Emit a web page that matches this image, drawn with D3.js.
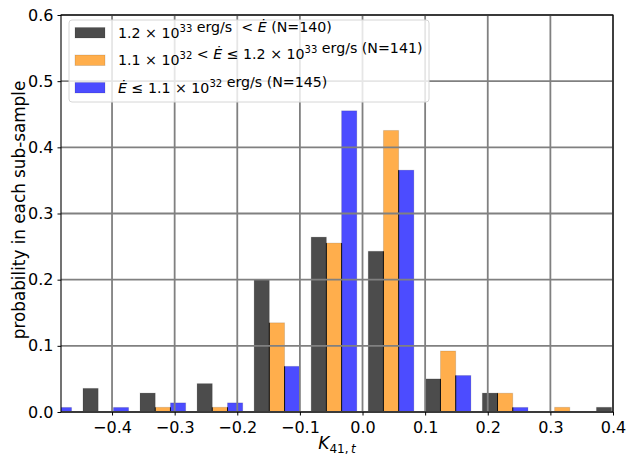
<!DOCTYPE html>
<html>
<head>
<meta charset="utf-8">
<script src="https://cdn.jsdelivr.net/npm/d3@7"></script>
<style>
  body { margin: 0; background: #fff; }
  svg { display: block; font-family: "DejaVu Sans", sans-serif; }
  text { white-space: pre; }
</style>
</head>
<body>
<svg id="chart" width="628" height="457"></svg>
<script>
// ---- data ----
const binStart = -0.5466;          // left edge of first histogram bin
const binWidth = 0.0911;           // histogram bin width
const binCount = 11;
const seriesNames = ["high", "mid", "low"];
const seriesCounts = [140, 141, 145];
const highValues = [0, 0.0357, 0.0286, 0.0429, 0.2000, 0.2643, 0.2429, 0.0500, 0.0286, 0, 0.0071];
const midValues  = [0, 0, 0.0071, 0.0071, 0.1348, 0.2553, 0.4255, 0.0922, 0.0284, 0.0071, 0];
const lowValues  = [0.0069, 0.0069, 0.0138, 0.0138, 0.0690, 0.4552, 0.3655, 0.0552, 0.0069, 0, 0];
const seriesColors = ["#4c4c4c", "#ffae4c", "#4c4cff"];
const xTicks = [-0.4, -0.3, -0.2, -0.1, 0.0, 0.1, 0.2, 0.3, 0.4];
const yTicks = [0.0, 0.1, 0.2, 0.3, 0.4, 0.5, 0.6];
const xDomain = [-0.4815, 0.4];
const yDomain = [0, 0.6];

const series = [highValues, midValues, lowValues];

// ---- layout ----
const svg = d3.select("#chart");
const L = 61, R = 613, T = 15, B = 412;
const x = d3.scaleLinear().domain(xDomain).range([L, R]);
const y = d3.scaleLinear().domain(yDomain).range([B, T]);

svg.append("defs").append("clipPath").attr("id", "plotclip")
  .append("rect").attr("x", L).attr("y", T).attr("width", R - L).attr("height", B - T);

const plot = svg.append("g").attr("clip-path", "url(#plotclip)");

// bars (matplotlib multi-dataset hist: 80% of bin shared by the series)
const nS = series.length;
const bars = [];
for (let b = 0; b < binCount; b++) {
  const e0 = binStart + b * binWidth;
  const start = e0 + 0.1 * binWidth;
  const w = 0.8 * binWidth / nS;
  for (let s = 0; s < nS; s++) {
    bars.push({ b, s, x0: start + s * w, x1: start + (s + 1) * w, v: series[s][b],
      prev: s > 0 ? series[s - 1][b] : null });
  }
}
const barData = bars.filter(d => d.v > 0);
plot.selectAll("rect.bar").data(barData).join("rect")
  .attr("class", "bar")
  .attr("x", d => x(d.x0))
  .attr("width", d => x(d.x1) - x(d.x0))
  .attr("y", d => y(d.v))
  .attr("height", d => y(0) - y(d.v))
  .attr("fill", d => seriesColors[d.s])
  .attr("stroke", "rgba(0,0,0,0.12)")
  .attr("stroke-width", 1);
// dark seam between adjacent bars of a group
plot.selectAll("line.seam").data(barData.filter(d => d.prev !== null && d.prev > 0)).join("line")
  .attr("class", "seam")
  .attr("x1", d => x(d.x0)).attr("x2", d => x(d.x0))
  .attr("y1", d => y(Math.min(d.v, d.prev))).attr("y2", y(0))
  .attr("stroke", "#111").attr("stroke-width", 1);

// grid (drawn over the bars)
const grid = svg.append("g");
grid.selectAll("line.gx").data(xTicks).join("line")
  .attr("x1", d => x(d)).attr("x2", d => x(d)).attr("y1", T).attr("y2", B)
  .attr("stroke", "#808080").attr("stroke-width", 1.8);
grid.selectAll("line.gy").data(yTicks).join("line")
  .attr("x1", L).attr("x2", R).attr("y1", d => y(d)).attr("y2", d => y(d))
  .attr("stroke", "#808080").attr("stroke-width", 1.8);

// frame
svg.append("rect").attr("x", L).attr("y", T).attr("width", R - L).attr("height", B - T)
  .attr("fill", "none").attr("stroke", "#000").attr("stroke-width", 1.1);

// axes
const fmt = d => d3.format(".1f")(d).replace("-", "\u2212");
const xAxis = svg.append("g").attr("transform", `translate(0,${B})`)
  .call(d3.axisBottom(x).tickValues(xTicks).tickFormat(fmt).tickSize(3.5).tickPadding(6).tickSizeOuter(0));
const yAxis = svg.append("g").attr("transform", `translate(${L},0)`)
  .call(d3.axisLeft(y).tickValues(yTicks).tickFormat(fmt).tickSize(3.5).tickPadding(4).tickSizeOuter(0));
[xAxis, yAxis].forEach(a => {
  a.select(".domain").remove();
  a.selectAll("text").attr("font-size", 16).attr("font-family", "DejaVu Sans").attr("fill", "#000");
  a.selectAll("line").attr("stroke", "#000").attr("stroke-width", 1);
});

// axis labels
svg.append("text").attr("transform", "translate(25,210) rotate(-90)")
  .attr("text-anchor", "middle").attr("font-size", 16.8)
  .text("probability in each sub-sample");
const xl = svg.append("text").attr("x", 337).attr("y", 449).attr("text-anchor", "middle").attr("font-size", 17);
xl.append("tspan").attr("font-style", "italic").text("K");
xl.append("tspan").attr("font-size", 12).attr("dy", 3.5).text("41,\u2009");
xl.append("tspan").attr("font-size", 12).attr("font-style", "italic").text("t");

// legend
const leg = svg.append("g");
leg.append("rect").attr("x", 69).attr("y", 20).attr("width", 360).attr("height", 82).attr("rx", 3)
  .attr("fill", "rgba(255,255,255,0.8)").attr("stroke", "#d6d6d6").attr("stroke-width", 1);
const rowsY = [37.5, 65, 92.5];
const fs = 14.2, sfs = 10;
function sup(t, s) { t.append("tspan").attr("font-size", sfs).attr("dy", -6).text(s); t.append("tspan").attr("dy", 6).text(""); }
function edot(t) { t.append("tspan").attr("font-style", "italic").text("\u0116"); }
seriesNames.forEach((n, i) => {
  leg.append("rect").attr("x", 75).attr("y", rowsY[i] - 10).attr("width", 30).attr("height", 10.5)
    .attr("fill", seriesColors[i]).attr("stroke", "rgba(0,0,0,0.12)");
  const t = leg.append("text").attr("x", 118).attr("y", rowsY[i]).attr("font-size", fs);
  if (i === 0) {
    t.append("tspan").text("1.2 \u00d7 10"); sup(t, "33");
    t.append("tspan").text(" erg/s  < "); edot(t);
    t.append("tspan").text(` (N=${seriesCounts[i]})`);
  } else if (i === 1) {
    t.append("tspan").text("1.1 \u00d7 10"); sup(t, "32");
    t.append("tspan").text(" < "); edot(t);
    t.append("tspan").text(" \u2264 1.2 \u00d7 10"); sup(t, "33");
    t.append("tspan").text(` erg/s (N=${seriesCounts[i]})`);
  } else {
    edot(t);
    t.append("tspan").text(" \u2264 1.1 \u00d7 10"); sup(t, "32");
    t.append("tspan").text(` erg/s (N=${seriesCounts[i]})`);
  }
});
</script>
</body>
</html>
